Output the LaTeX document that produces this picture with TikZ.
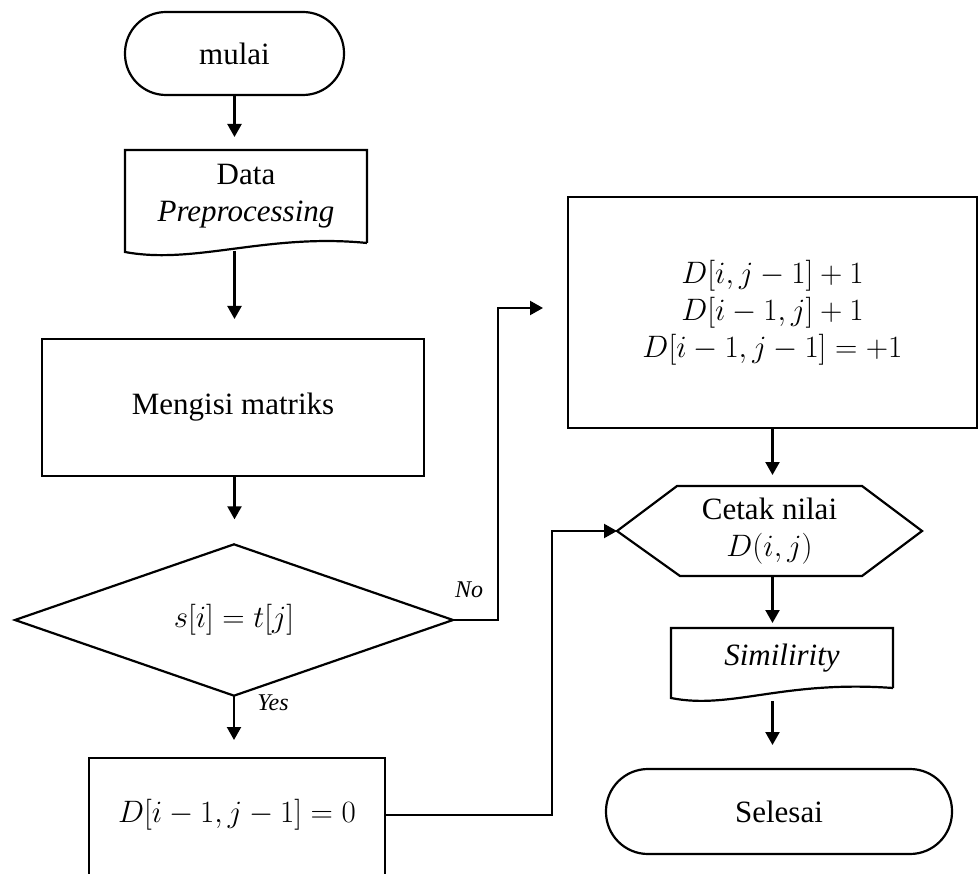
\RequirePackage{fix-cm}
\documentclass[tikz,border=0pt]{standalone}
\usepackage{fontspec}
\setmainfont{Liberation Serif}[ItalicFont={Liberation Serif Italic},BoldFont={Liberation Serif Bold}]
\usetikzlibrary{arrows.meta,shapes.geometric,calc}
\begin{document}
\begin{tikzpicture}[x=1pt,y=-1pt, line width=2.2pt,
  every node/.style={inner sep=0pt, outer sep=0pt, font=\fontsize{31}{37}\selectfont, align=center},
  proc/.style={draw, rectangle},
  term/.style={draw, rectangle, rounded corners=41pt},
  plain/.style={rectangle},
  dec/.style={draw, diamond},
  arr/.style={-{Triangle[length=13pt,width=14pt]}},
  lbl/.style={font=\fontsize{24}{28}\selectfont\itshape}
]
\useasboundingbox (0,0) rectangle (979,874);

% ---------- left column ----------
\node[term, minimum width=219, minimum height=83] (start) at (234.5,53.5) {mulai};

\node[plain, minimum width=242, minimum height=93] (data) at (246,196.5) {Data\\\textit{Preprocessing}};
\draw (data.south east) -- (data.north east) -- (data.north west) -- ($(data.south west)+(0,9)$)
  .. controls ($(data.south west)+(70,22)$) and ($(data.south east)+(-100,-10)$) .. (data.south east);

\node[proc, minimum width=382, minimum height=137] (mat) at (233,407.5) {Mengisi matriks};

\node[dec, minimum width=438, minimum height=146] (cond) at (234,620) {$s[i]=t[j]$};

\node[proc, minimum width=296, minimum height=132] (dz) at (237,824) {};
\node (dzt) at (237,815) {$D[i-1,j-1]=0$};

% ---------- right column ----------
\node[proc, minimum width=409, minimum height=231] (rb) at (772.5,312.5)
  {$D[i,j-1]+1$\\$D[i-1,j]+1$\\$D[i-1,j-1]=+1$};

\node[plain, minimum width=305, minimum height=90] (hex) at (769.5,531) {Cetak nilai\\$D(i,j)$};
\draw (hex.west) -- ($(hex.north west)+(60,0)$) -- ($(hex.north east)+(-60,0)$) -- (hex.east)
  -- ($(hex.south east)+(-60,0)$) -- ($(hex.south west)+(63,0)$) -- cycle;

\node[plain, minimum width=222, minimum height=60] (sim) at (782,658) {\textit{Similirity}};
\draw (sim.south east) -- (sim.north east) -- (sim.north west) -- ($(sim.south west)+(0,10)$)
  .. controls ($(sim.south west)+(60,22)$) and ($(sim.south east)+(-110,-8)$) .. (sim.south east);

\node[term, minimum width=346, minimum height=85, rounded corners=42pt] (stop) at (779,811.5) {Selesai};

% ---------- connectors ----------
\draw[arr, shorten >=13pt] (start.south) -- (start.south |- data.north);
\draw[arr, shorten >=20pt] ($(start.south |- data.south)+(0,8)$) -- (start.south |- mat.north);
\draw[arr, shorten >=25pt] (start.south |- mat.south) -- (start.south |- cond.north);
\draw[arr, shorten >=18pt] (cond.south) -- (cond.south |- dz.north);
\node[lbl] (yes) at (273,703) {Yes};

\draw[arr, shorten >=25pt] (cond.east) -- ++(45,0) |- ([yshift=4.5pt]rb.west);
\node[lbl] (no) at (469,590) {No};

\draw[arr] (dz.east |- dzt.center) -- ++(167,0) |- (hex.west);

\draw[arr, shorten >=11pt] (rb.south) -- (rb.south |- hex.north);
\draw[arr, shorten >=5pt] (rb.south |- hex.south) -- (rb.south |- sim.north);
\draw[arr, shorten >=24pt] ($(rb.south |- sim.south)+(0,13)$) -- (rb.south |- stop.north);
\end{tikzpicture}
\end{document}
